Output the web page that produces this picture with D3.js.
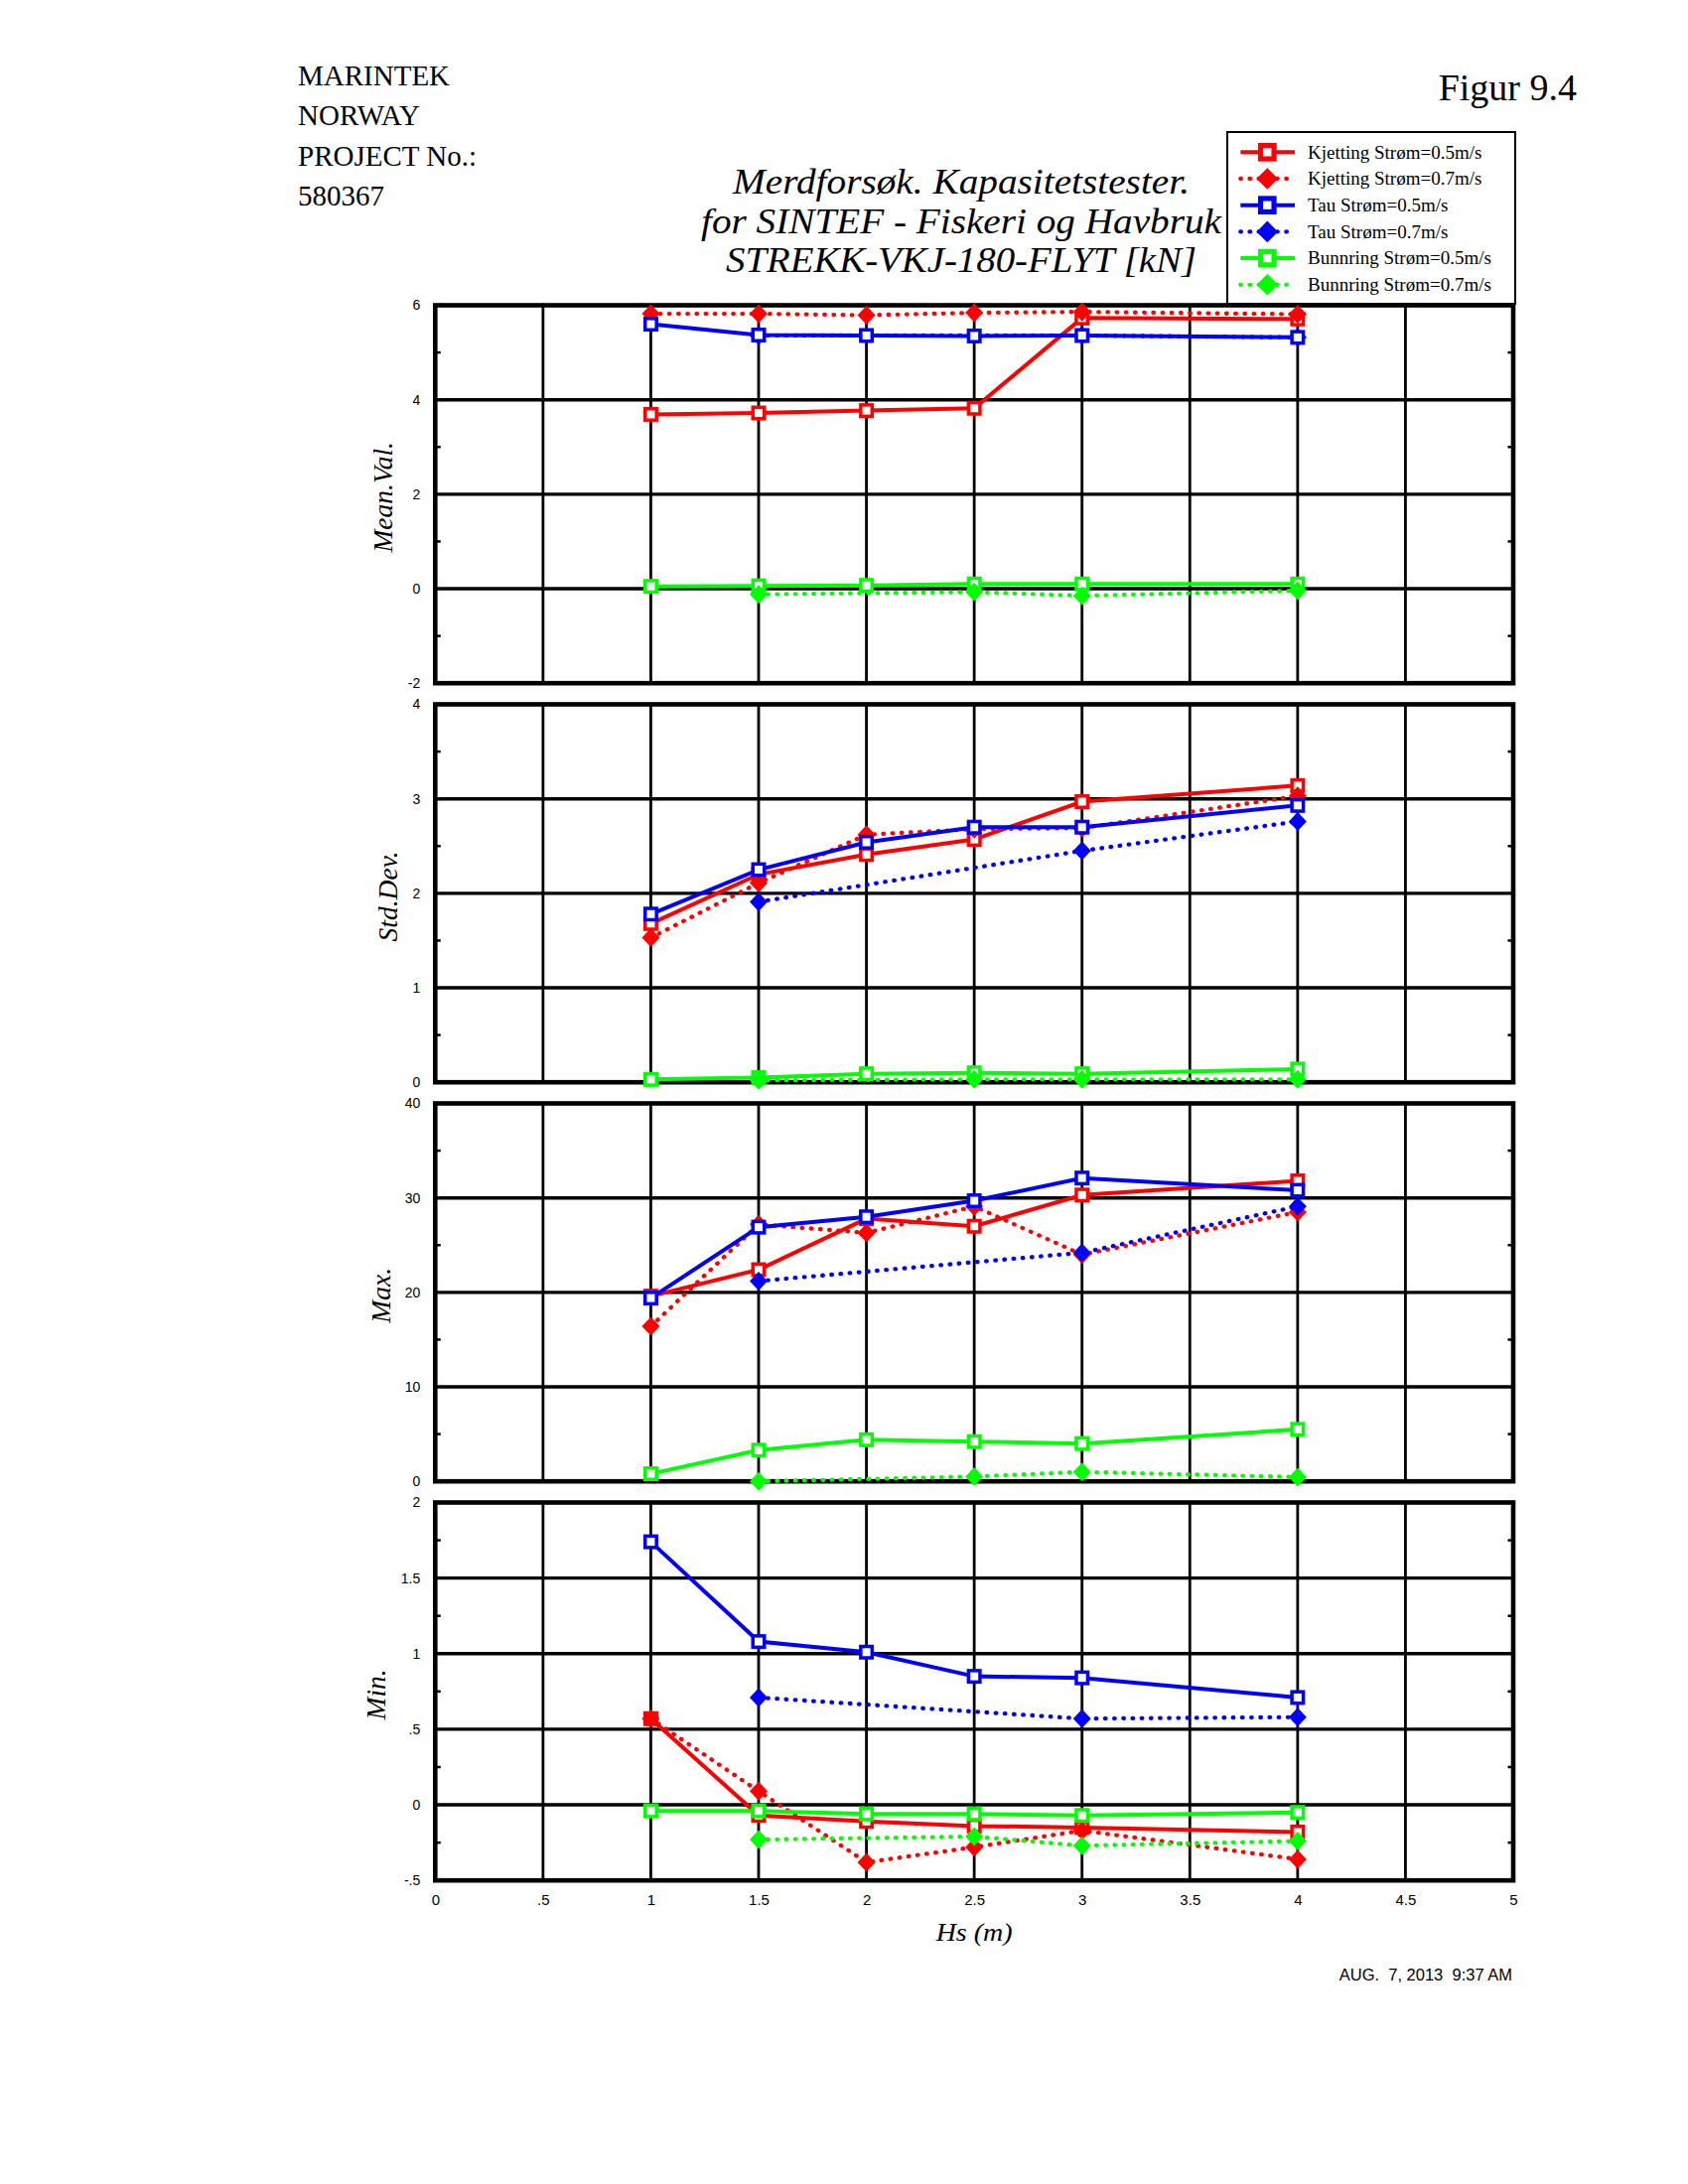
<!DOCTYPE html>
<html><head><meta charset="utf-8">
<script src="https://cdn.jsdelivr.net/npm/d3@7/dist/d3.min.js"></script>
<style>body{margin:0;background:#fff}</style>
</head><body>
<svg id="c" width="1700" height="2200" xmlns="http://www.w3.org/2000/svg"></svg>
<script>
// ---------- data ----------
const hs      = [1, 1.5, 2, 2.5, 3, 4];
const hsTau07 = [1.5, 3, 4];
const hsBun07 = [1.5, 2.5, 3, 4];

const seriesNames  = ["Kjetting Strøm=0.5m/s", "Kjetting Strøm=0.7m/s", "Tau Strøm=0.5m/s",
                      "Tau Strøm=0.7m/s", "Bunnring Strøm=0.5m/s", "Bunnring Strøm=0.7m/s"];
const seriesColors = ["#ff0000", "#ff0000", "#0000ff", "#0000ff", "#00ff00", "#00ff00"];
const seriesDotted = [false, true, false, true, false, true];
const seriesMarker = ["square", "diamond", "square", "diamond", "square", "diamond"];
const seriesX      = [hs, hs, hs, hsTau07, hs, hsBun07];
const drawOrder    = [0, 1, 3, 2, 4, 5];

// Mean value
const meanKj05  = [3.69, 3.72, 3.77, 3.82, 5.73, 5.71];
const meanKj07  = [5.82, 5.82, 5.79, 5.84, 5.86, 5.81];
const meanTau05 = [5.60, 5.37, 5.36, 5.35, 5.36, 5.32];
const meanTau07 = [5.36, 5.36, 5.32];
const meanBun05 = [0.05, 0.06, 0.07, 0.10, 0.10, 0.10];
const meanBun07 = [-0.12, -0.07, -0.15, -0.04];
// Std.Dev.
const stdKj05  = [1.68, 2.20, 2.41, 2.57, 2.97, 3.14];
const stdKj07  = [1.53, 2.11, 2.62, 2.68, 2.69, 3.03];
const stdTau05 = [1.78, 2.25, 2.54, 2.70, 2.70, 2.93];
const stdTau07 = [1.91, 2.45, 2.76];
const stdBun05 = [0.03, 0.05, 0.09, 0.10, 0.09, 0.14];
const stdBun07 = [0.02, 0.03, 0.03, 0.03];
// Max.
const maxKj05  = [19.6, 22.4, 27.8, 27.0, 30.3, 31.8];
const maxKj07  = [16.4, 27.2, 26.3, 29.1, 24.0, 28.5];
const maxTau05 = [19.4, 26.9, 28.0, 29.7, 32.1, 30.8];
const maxTau07 = [21.2, 24.2, 29.1];
const maxBun05 = [0.8, 3.3, 4.4, 4.2, 4.0, 5.5];
const maxBun07 = [0.0, 0.5, 1.0, 0.45];
// Min.
const minKj05  = [0.57, -0.07, -0.11, -0.14, -0.15, -0.18];
const minKj07  = [0.57, 0.09, -0.38, -0.28, -0.17, -0.36];
const minTau05 = [1.74, 1.08, 1.01, 0.85, 0.84, 0.71];
const minTau07 = [0.71, 0.57, 0.58];
const minBun05 = [-0.04, -0.04, -0.06, -0.06, -0.07, -0.05];
const minBun07 = [-0.23, -0.21, -0.27, -0.24];

// tick labels
const xTicks    = [0, 0.5, 1, 1.5, 2, 2.5, 3, 3.5, 4, 4.5, 5];
const meanTicks = [-2, 0, 2, 4, 6];
const stdTicks  = [0, 1, 2, 3, 4];
const maxTicks  = [0, 10, 20, 30, 40];
const minTicks  = [-0.5, 0, 0.5, 1, 1.5, 2];
const panelTitles = ["Mean.Val.", "Std.Dev.", "Max.", "Min."];

const headerLines = ["MARINTEK", "NORWAY", "PROJECT No.:", "580367"];
const titleLines  = ["Merdforsøk. Kapasitetstester.", "for SINTEF - Fiskeri og Havbruk", "STREKK-VKJ-180-FLYT [kN]"];
const figLabel = "Figur 9.4";
const xTitle = "Hs (m)";
const dateLabel = "AUG.  7, 2013  9:37 AM";

// ---------- layout ----------
const SERIF = "'Liberation Serif','Times New Roman',Times,serif";
const SANS  = "'Liberation Sans',Arial,Helvetica,sans-serif";
const svg = d3.select("#c");
svg.append("rect").attr("width", 1700).attr("height", 2200).attr("fill", "#fff");

const xL = 438.3, xR = 1524;
const x = d3.scaleLinear().domain([0, 5]).range([xL, xR]);
const top0 = 307.5, step = 402, ph = 380.7;

const panels = [
  {title: panelTitles[0], ticks: meanTicks, data: [meanKj05, meanKj07, meanTau05, meanTau07, meanBun05, meanBun07], tx: 395},
  {title: panelTitles[1], ticks: stdTicks,  data: [stdKj05, stdKj07, stdTau05, stdTau07, stdBun05, stdBun07], tx: 400},
  {title: panelTitles[2], ticks: maxTicks,  data: [maxKj05, maxKj07, maxTau05, maxTau07, maxBun05, maxBun07], tx: 393},
  {title: panelTitles[3], ticks: minTicks,  data: [minKj05, minKj07, minTau05, minTau07, minBun05, minBun07], tx: 388}
];

function fmt(v) {
  let s = String(+v.toFixed(3));
  return s.replace(/^0\./, ".").replace(/^-0\./, "-.");
}

function marker(g, type, cx, cy, color, big) {
  if (type === "square") {
    const s = big ? 13.5 : 11.5, w = big ? 5.2 : 3.5;
    g.append("rect").attr("x", cx - s / 2).attr("y", cy - s / 2).attr("width", s).attr("height", s)
      .attr("fill", "#fff").attr("stroke", color).attr("stroke-width", w);
  } else {
    const h = big ? 10.8 : 9.5, wd = big ? 10.8 : 9;
    g.append("path").attr("d", `M${cx},${cy - h}L${cx + wd},${cy}L${cx},${cy + h}L${cx - wd},${cy}Z`)
      .attr("fill", color);
  }
}

function styleLine(sel, i) {
  sel.attr("fill", "none").attr("stroke", seriesColors[i]);
  if (seriesDotted[i]) {
    sel.attr("stroke-width", 4.3).attr("stroke-dasharray", "0.6 8.6").attr("stroke-linecap", "round");
  } else {
    sel.attr("stroke-width", 4).attr("stroke-linejoin", "miter");
  }
}

panels.forEach((p, k) => {
  const top = top0 + k * step, bot = top + ph;
  const dom = d3.extent(p.ticks);
  const y = d3.scaleLinear().domain(dom).range([bot, top]);
  const g = svg.append("g");

  // vertical grid
  xTicks.slice(1, -1).forEach(t => {
    g.append("line").attr("x1", x(t)).attr("x2", x(t)).attr("y1", top).attr("y2", bot)
      .attr("stroke", "#000").attr("stroke-width", 2.8);
  });
  // horizontal grid
  p.ticks.slice(1, -1).forEach(t => {
    g.append("line").attr("x1", xL).attr("x2", xR).attr("y1", y(t)).attr("y2", y(t))
      .attr("stroke", "#000").attr("stroke-width", 3.4);
  });
  // minor ticks
  for (let i = 0; i < p.ticks.length - 1; i++) {
    const m = (p.ticks[i] + p.ticks[i + 1]) / 2;
    g.append("line").attr("x1", xL).attr("x2", xL + 5.5).attr("y1", y(m)).attr("y2", y(m))
      .attr("stroke", "#000").attr("stroke-width", 2.5);
    g.append("line").attr("x1", xR - 5.5).attr("x2", xR).attr("y1", y(m)).attr("y2", y(m))
      .attr("stroke", "#000").attr("stroke-width", 2.5);
  }
  // frame
  g.append("rect").attr("x", xL).attr("y", top).attr("width", xR - xL).attr("height", ph)
    .attr("fill", "none").attr("stroke", "#000").attr("stroke-width", 4.6);

  // y axis labels
  const ax = svg.append("g").attr("transform", `translate(${xL},0)`)
    .call(d3.axisLeft(y).tickValues(p.ticks).tickSize(0).tickPadding(15).tickFormat(fmt));
  ax.select(".domain").remove();
  ax.selectAll("text").attr("font-family", SANS).attr("font-size", 14).attr("fill", "#000");

  // y title
  svg.append("text").attr("transform", `translate(${p.tx},${(top + bot) / 2 + 3}) rotate(-90)`)
    .attr("text-anchor", "middle").attr("font-family", SERIF).attr("font-style", "italic")
    .attr("font-size", 27.5).text(p.title);

  // data
  const line = d3.line().x(d => x(d[0])).y(d => y(d[1]));
  drawOrder.forEach(i => {
    const vals = p.data[i];
    const pts = seriesX[i].map((xv, j) => [xv, vals[j]]);
    styleLine(g.append("path").attr("d", line(pts)), i);
    pts.forEach(d => marker(g, seriesMarker[i], x(d[0]), y(d[1]), seriesColors[i], false));
  });

  // x axis labels for the bottom panel
  if (k === panels.length - 1) {
    const xa = svg.append("g").attr("transform", `translate(0,${bot})`)
      .call(d3.axisBottom(x).tickValues(xTicks).tickSize(0).tickPadding(14).tickFormat(fmt));
    xa.select(".domain").remove();
    xa.selectAll("text").attr("font-family", SANS).attr("font-size", 15).attr("fill", "#000");
    svg.append("text").attr("x", (xL + xR) / 2).attr("y", bot + 61)
      .attr("text-anchor", "middle").attr("font-family", SERIF).attr("font-style", "italic")
      .attr("font-size", 25).attr("textLength", 77).attr("lengthAdjust", "spacingAndGlyphs").text(xTitle);
  }
});

// header
headerLines.forEach((t, i) => {
  svg.append("text").attr("x", 300).attr("y", 86 + i * 40.4).attr("font-family", SERIF)
    .attr("font-size", 29).text(t);
});
svg.append("text").attr("x", 1588).attr("y", 101).attr("text-anchor", "end")
  .attr("font-family", SERIF).attr("font-size", 38).text(figLabel);

// title
const titleW = [460, 524, 474];
titleLines.forEach((t, i) => {
  svg.append("text").attr("x", 968).attr("y", [195, 234.5, 274][i]).attr("text-anchor", "middle")
    .attr("font-family", SERIF).attr("font-style", "italic").attr("font-size", 36)
    .attr("textLength", titleW[i]).attr("lengthAdjust", "spacingAndGlyphs").text(t);
});

// legend
const lg = svg.append("g");
lg.append("rect").attr("x", 1236).attr("y", 133).attr("width", 290).attr("height", 173)
  .attr("fill", "#fff").attr("stroke", "#000").attr("stroke-width", 2);
seriesNames.forEach((n, i) => {
  const yy = 153.3 + i * 26.7;
  styleLine(lg.append("line").attr("x1", 1249.3).attr("x2", 1304).attr("y1", yy).attr("y2", yy), i);
  marker(lg, seriesMarker[i], 1276.3, yy, seriesColors[i], true);
  lg.append("text").attr("x", 1317).attr("y", yy + 6.3).attr("font-family", SERIF)
    .attr("font-size", 19).text(n);
});

// date
svg.append("text").attr("x", 1523).attr("y", 1995).attr("text-anchor", "end")
  .attr("font-family", SANS).attr("font-size", 16.5).attr("xml:space", "preserve")
  .style("white-space", "pre").text(dateLabel);
</script>
</body></html>
